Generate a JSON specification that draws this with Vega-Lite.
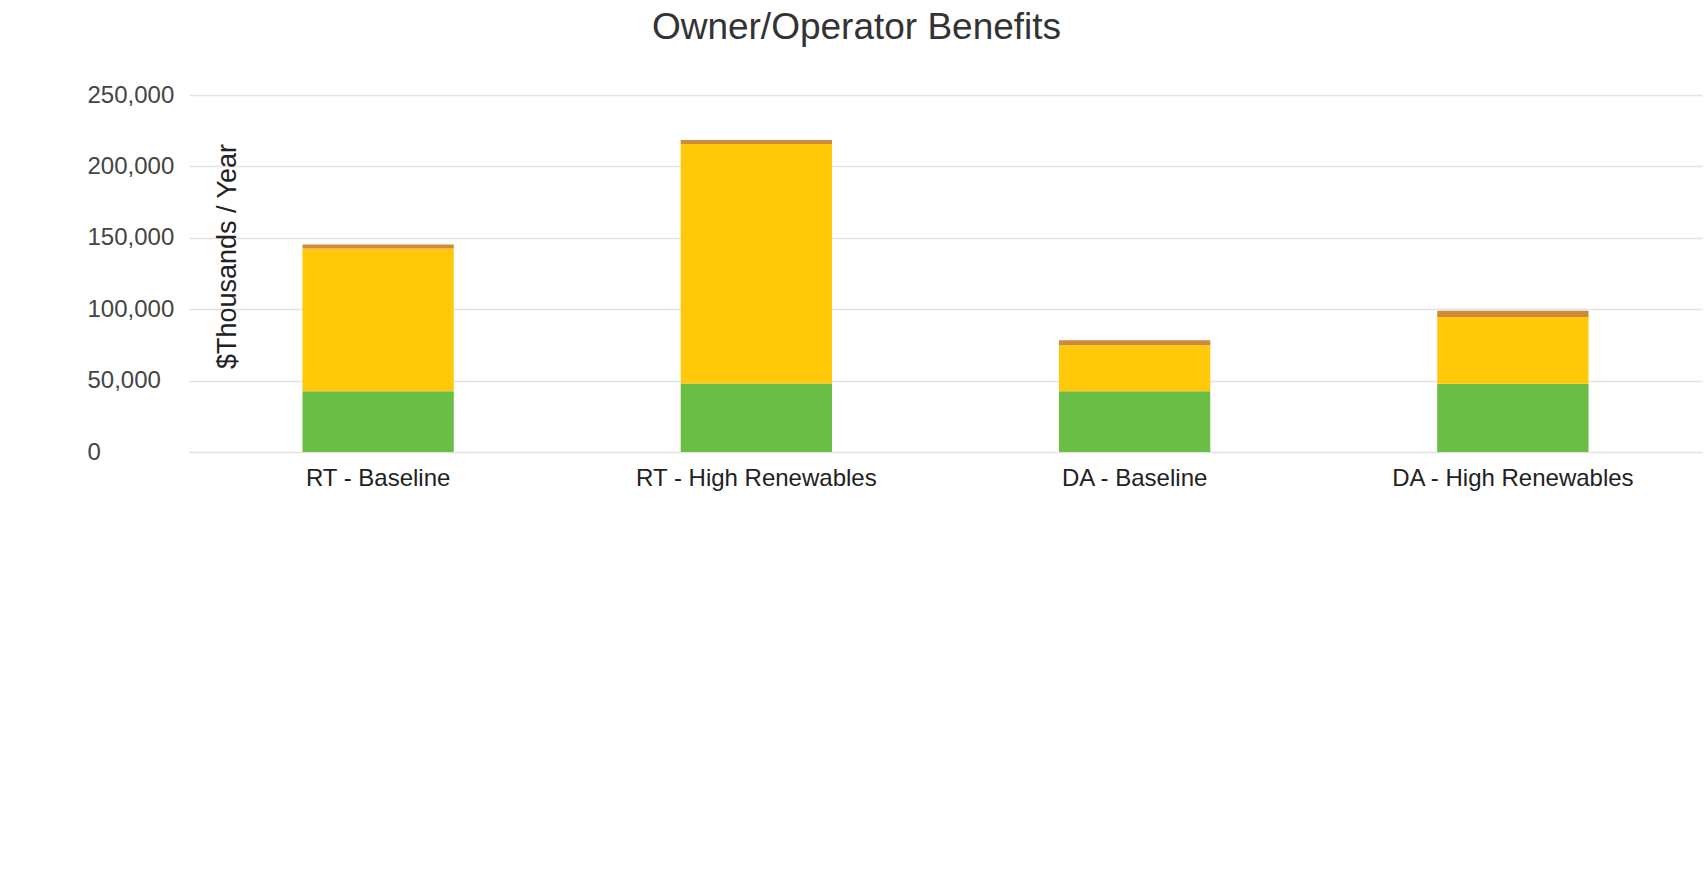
{
  "$schema": "https://vega.github.io/schema/vega-lite/v6.json",
  "width": 1513,
  "height": 357,
  "autosize": {"type": "none"},
  "padding": {"left": 189, "top": 95, "right": 5, "bottom": 424},
  "background": "white",
  "title": {
    "text": "Owner/Operator Benefits",
    "font": "Liberation Sans",
    "fontSize": 37,
    "fontWeight": "normal",
    "color": "#333333",
    "anchor": "middle",
    "dx": -89,
    "offset": 36
  },
  "data": {
    "values": [
      {"scenario": "RT - Baseline", "component": "Green", "k": 1, "value": 42600},
      {"scenario": "RT - Baseline", "component": "Yellow", "k": 2, "value": 99900},
      {"scenario": "RT - Baseline", "component": "Orange", "k": 3, "value": 2800},
      {"scenario": "RT - High Renewables", "component": "Green", "k": 1, "value": 48000},
      {"scenario": "RT - High Renewables", "component": "Yellow", "k": 2, "value": 167600},
      {"scenario": "RT - High Renewables", "component": "Orange", "k": 3, "value": 2800},
      {"scenario": "DA - Baseline", "component": "Green", "k": 1, "value": 42600},
      {"scenario": "DA - Baseline", "component": "Yellow", "k": 2, "value": 32100},
      {"scenario": "DA - Baseline", "component": "Orange", "k": 3, "value": 3500},
      {"scenario": "DA - High Renewables", "component": "Green", "k": 1, "value": 47800},
      {"scenario": "DA - High Renewables", "component": "Yellow", "k": 2, "value": 46700},
      {"scenario": "DA - High Renewables", "component": "Orange", "k": 3, "value": 4500}
    ]
  },
  "mark": {"type": "bar"},
  "encoding": {
    "x": {
      "field": "scenario",
      "type": "nominal",
      "sort": ["RT - Baseline", "RT - High Renewables", "DA - Baseline", "DA - High Renewables"],
      "scale": {"paddingInner": 0.6, "paddingOuter": 0.3},
      "axis": {
        "title": null,
        "labelAngle": 0,
        "labelLimit": 0,
        "ticks": false,
        "tickSize": 0,
        "domain": false,
        "labelPadding": 14,
        "labelFont": "Liberation Sans",
        "labelFontSize": 24,
        "labelColor": "#222222",
        "grid": false
      }
    },
    "y": {
      "field": "value",
      "type": "quantitative",
      "stack": "zero",
      "scale": {"domain": [0, 250000], "nice": false},
      "axis": {
        "title": "$Thousands / Year",
        "titleFont": "Liberation Sans",
        "titleFontSize": 27,
        "titleFontWeight": "normal",
        "titleColor": "#222222",
        "titleAngle": -90,
        "titleX": 38,
        "titleY": 161,
        "titleAlign": "center",
        "titleBaseline": "middle",
        "values": [0, 50000, 100000, 150000, 200000, 250000],
        "format": ",.0f",
        "ticks": false,
        "tickSize": 0,
        "domain": false,
        "labelAlign": "left",
        "labelBaseline": "middle",
        "labelPadding": 102,
        "labelFont": "Liberation Sans",
        "labelFontSize": 24,
        "labelColor": "#444444",
        "grid": true,
        "gridColor": "#e3e3e3",
        "gridWidth": 1.5
      }
    },
    "color": {
      "field": "component",
      "type": "nominal",
      "scale": {"domain": ["Green", "Yellow", "Orange"], "range": ["#6abd45", "#ffc90a", "#cf8a3c"]},
      "legend": null
    },
    "order": {"field": "k", "type": "quantitative"}
  },
  "config": {"view": {"stroke": null}}
}
